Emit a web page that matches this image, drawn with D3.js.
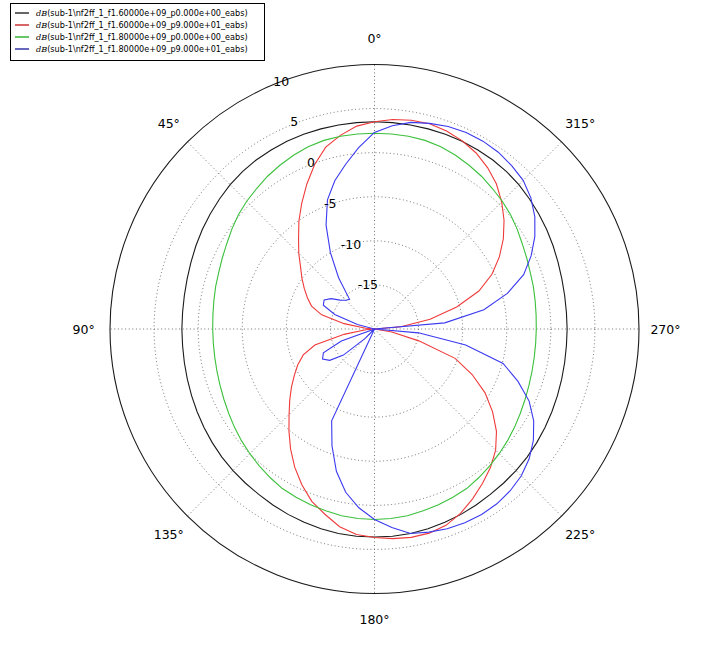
<!DOCTYPE html>
<html><head><meta charset="utf-8">
<script src="https://cdn.jsdelivr.net/npm/d3@7"></script>
<style>body{margin:0;background:#fff}svg{display:block}text{font-family:"DejaVu Sans",sans-serif}</style>
</head><body><svg id="c" width="701" height="651"></svg>
<script>
const angles=[0,5,10,15,20,25,30,35,40,45,50,55,60,65,70,75,80,85,90,95,100,105,110,115,120,125,130,135,140,145,150,155,160,165,170,175,180,185,190,195,200,205,210,215,220,225,230,235,240,245,250,255,260,265,270,275,280,285,290,295,300,305,310,315,320,325,330,335,340,345,350,355];
const blackVals=[3.5,3.5,3.5,3.5,3.5,3.5,3.45,3.4,3.3,3.15,2.95,2.75,2.55,2.35,2.15,2.0,1.9,1.85,1.85,1.85,1.9,1.98,2.08,2.2,2.33,2.47,2.6,2.7,2.8,2.9,3.05,3.2,3.33,3.45,3.55,3.6,3.6,3.6,3.55,3.45,3.33,3.2,3.05,2.9,2.8,2.7,2.6,2.47,2.33,2.2,2.08,1.98,1.9,1.85,1.85,1.85,1.9,2.0,2.15,2.35,2.55,2.75,2.95,3.15,3.3,3.4,3.45,3.5,3.5,3.5,3.5,3.5];
const redVals=[3.5,3.1,2.3,1.35,-0.15,-1.85,-3.5,-5.05,-6.6,-7.85,-9.05,-9.95,-10.8,-11.6,-12.4,-13.8,-16.5,-19,-20,-19,-16.5,-13,-11.4,-10.4,-9.5,-8.5,-7.45,-6.3,-4.9,-3.4,-1.9,-0.5,0.8,1.75,2.77,3.4,3.65,3.87,4.0,3.97,3.7,3.08,2.25,1.37,0.48,-0.57,-1.94,-3.66,-5.52,-7.78,-10.27,-14.8,-18,-20,-20,-17,-13.6,-10.35,-7.4,-5.3,-3.65,-2.16,-0.82,0.4,1.5,2.35,3.05,3.55,3.9,4.1,4.05,3.85];
const greenVals=[2.2,2.2,2.2,2.15,2.0,1.75,1.45,1.15,0.8,0.5,0.15,-0.25,-0.65,-0.95,-1.2,-1.35,-1.5,-1.6,-1.65,-1.65,-1.6,-1.5,-1.35,-1.15,-0.9,-0.6,-0.3,0.0,0.3,0.6,0.9,1.05,1.2,1.35,1.5,1.58,1.6,1.58,1.5,1.35,1.2,1.05,0.9,0.6,0.3,0.0,-0.3,-0.6,-0.9,-1.15,-1.35,-1.5,-1.6,-1.65,-1.65,-1.6,-1.5,-1.35,-1.2,-0.95,-0.65,-0.25,0.15,0.5,0.8,1.15,1.45,1.75,2.0,2.15,2.2,2.2];
const blueVals=[2.3,0.65,-1.05,-2.6,-4.4,-7.0,-10.0,-12.9,-15.6,-15.4,-14.9,-14.0,-13.4,-13.6,-15.2,-18,-20,-20,-20,-20,-20,-20,-16,-13.6,-13.2,-13.8,-15.4,-18.5,-20,-20,-20,-8.5,-5.9,-3.3,-1.2,0.35,1.6,2.6,3.55,3.85,4.1,4.25,4.3,4.2,3.95,3.55,2.9,2.0,0.85,-0.65,-2.7,-4.9,-9.5,-15,-20,-12,-7.4,-4.4,-2.0,-0.4,1.0,2.2,3.15,3.85,4.2,4.48,4.6,4.6,4.45,4.15,3.8,3.15];
const seriesNames=["dB(sub-1\\nf2ff_1_f1.60000e+09_p0.000e+00_eabs)","dB(sub-1\\nf2ff_1_f1.60000e+09_p9.000e+01_eabs)","dB(sub-1\\nf2ff_1_f1.80000e+09_p0.000e+00_eabs)","dB(sub-1\\nf2ff_1_f1.80000e+09_p9.000e+01_eabs)"];
const radialTicks=[-15,-10,-5,0,5,10];
const angleTicks=[0,45,90,135,180,225,270,315];
const rMin=-20, rMax=10;

const lineColors=["#1a1a1a","#f03a3a","#3cc03c","#3a3af0"];
const legendColors=["#000000","#c00000","#00a000","#000090"];
const svg=d3.select("#c");
const cx=374.5, cy=329, R=264.5;
const r=d3.scaleLinear().domain([rMin,rMax]).range([0,R]).clamp(true);
const rad=a=>a*Math.PI/180;
const g=svg.append("g").attr("transform",`translate(${cx},${cy})`);

// grid circles
g.selectAll("circle.grid").data(radialTicks.filter(t=>t<rMax)).join("circle")
 .attr("r",d=>r(d)).attr("fill","none").attr("stroke","#333").attr("stroke-width",0.7).attr("stroke-dasharray","1,2.6");
// spokes
g.selectAll("line.spoke").data(angleTicks).join("line")
 .attr("x1",0).attr("y1",0)
 .attr("x2",d=>-R*Math.sin(rad(d))).attr("y2",d=>-R*Math.cos(rad(d)))
 .attr("stroke","#333").attr("stroke-width",0.7).attr("stroke-dasharray","1,2.6");

// series
const allVals=[blackVals,redVals,greenVals,blueVals];
const line=d3.lineRadial().curve(d3.curveLinearClosed)
 .angle(d=>-rad(d[0])).radius(d=>r(d[1]));
allVals.forEach((vals,i)=>{
  g.append("path").datum(angles.map((a,k)=>[a,vals[k]]))
   .attr("d",line).attr("fill","none").attr("stroke",lineColors[i]).attr("stroke-width",1.1);
});

// outer circle
g.append("circle").attr("r",r(rMax)).attr("fill","none").attr("stroke","#1a1a1a").attr("stroke-width",1.1);

// angle labels
g.selectAll("text.ang").data(angleTicks).join("text")
 .attr("x",d=>-1.1*R*Math.sin(rad(d))).attr("y",d=>-1.1*R*Math.cos(rad(d)))
 .attr("text-anchor","middle").attr("dominant-baseline","central")
 .attr("font-size",12.5).attr("fill","#000").text(d=>d+"\u00b0");

// radial labels
g.selectAll("text.rl").data(radialTicks).join("text")
 .attr("x",d=>-r(d)*Math.sin(rad(22.5))).attr("y",d=>-r(d)*Math.cos(rad(22.5))+1)
 .attr("font-size",12.5).attr("fill","#000").text(d=>String(d));

// legend
const lg=svg.append("g");
lg.append("rect").attr("x",10.5).attr("y",3.5).attr("width",254).attr("height",57).attr("fill","#fff").attr("stroke","#000").attr("stroke-width",1);
seriesNames.forEach((nm,i)=>{
  const y=13+i*12;
  lg.append("line").attr("x1",15).attr("x2",29).attr("y1",y).attr("y2",y).attr("stroke",legendColors[i]).attr("stroke-width",1.2);
  const t=lg.append("text").attr("x",36).attr("y",y+2.8).attr("font-size",8.15).attr("fill","#000");
  t.append("tspan").attr("font-family","DejaVu Serif").attr("font-style","italic").text(nm.slice(0,2));
  t.append("tspan").text(nm.slice(2));
});
</script></body></html>
